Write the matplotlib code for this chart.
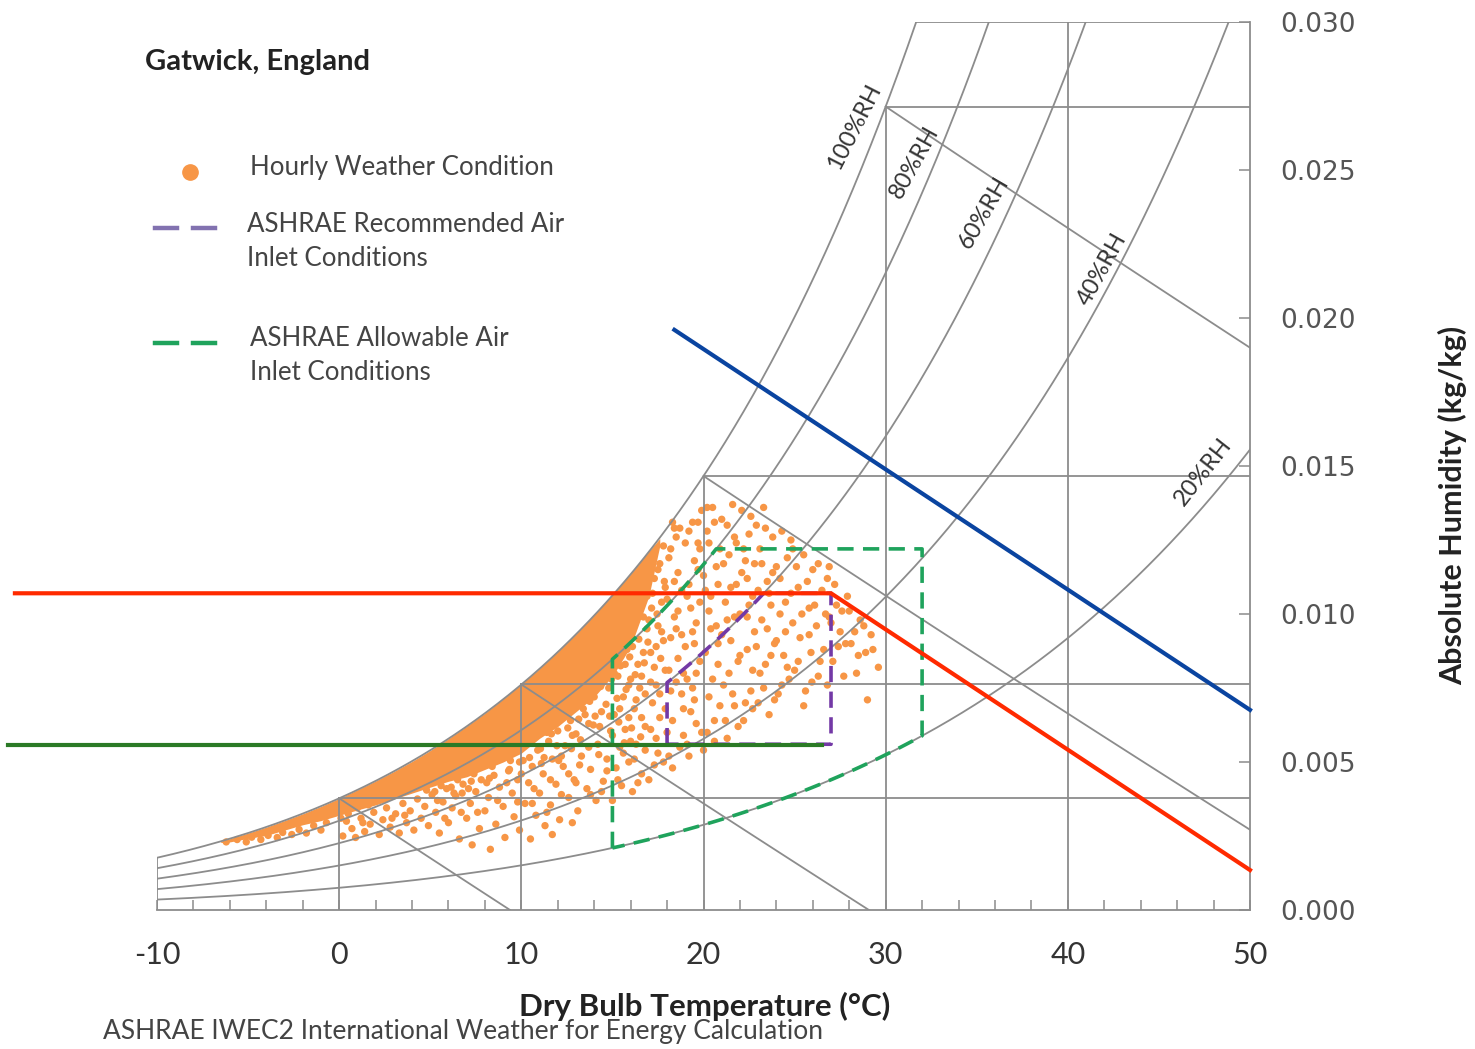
import numpy as np
import matplotlib.pyplot as plt
from matplotlib.lines import Line2D

W, H = 1475, 1049

# --- chart furniture (psychrometric grid) ---
rh_levels = [1.0, 0.8, 0.6, 0.4, 0.2]
rh_labels = ["100%RH", "80%RH", "60%RH", "40%RH", "20%RH"]
rh_label_t = [28.3, 31.6, 35.4, 41.9, 47.4]
rh_label_w = [0.02645, 0.02527, 0.02355, 0.02166, 0.01480]
rh_label_rot = [63, 61, 60, 61, 52]
grid_temps = [-10, 0, 10, 20, 30, 40]
enthalpy_temps = [0, 10, 20, 30]

# --- hourly weather data (g/kg) ---
# solid core of the cloud next to saturation
core_t = [-6.5, -6, -5, -4, -3, -2, -1, 0, 1, 2, 3, 4, 5, 6, 7, 8, 9, 10,
          11, 12, 13, 14, 15, 16, 17, 17.6]
core_hi = [2.32, 2.41, 2.60, 2.80, 3.02, 3.25, 3.50, 3.77, 4.06, 4.36, 4.68,
           5.02, 5.39, 5.79, 6.21, 6.65, 7.13, 7.63, 8.16, 8.73, 9.33, 9.97,
           10.65, 11.36, 12.12, 12.55]
core_lo = [2.28, 2.30, 2.42, 2.52, 2.70, 2.88, 3.02, 3.20, 3.38, 3.55, 3.75,
           3.95, 4.15, 4.35, 4.50, 4.75, 5.00, 5.30, 5.80, 6.20, 6.70, 7.20,
           7.90, 8.90, 10.60, 12.30]
# scattered hours around the core
dots = [
    (-6.2, 2.30), (-5.6, 2.38), (-5.1, 2.30), (-4.8, 2.46), (-4.3, 2.38),
    (-3.9, 2.52), (-3.4, 2.45), (-3.1, 2.62), (-2.6, 2.55), (-2.2, 2.72),
    (-1.8, 2.60), (-1.4, 2.85), (-1.0, 2.70), (-0.7, 2.95),
    (0.2, 2.50), (0.4, 3.00), (0.7, 2.75), (0.9, 2.45), (1.2, 3.10),
    (1.4, 2.65), (1.7, 2.90), (1.9, 3.30), (2.2, 2.55), (2.4, 3.05),
    (2.6, 3.45), (2.8, 2.80), (3.1, 3.25), (3.3, 2.60), (3.5, 3.60),
    (3.7, 2.95), (3.9, 3.35), (4.1, 2.70), (4.3, 3.75), (4.5, 3.10),
    (4.7, 3.50), (4.9, 2.85),
    (0.5, 3.25), (1.0, 3.45), (1.6, 3.55), (2.1, 3.70), (2.7, 3.85),
    (3.2, 3.95), (3.8, 4.10), (4.4, 4.25), (4.8, 4.05), (0.1, 3.10),
    (1.3, 2.95), (2.9, 3.10), (3.6, 3.20),
    (5.1, 3.90), (5.3, 3.30), (5.5, 2.60), (5.7, 3.65), (5.9, 4.10),
    (6.0, 2.95), (6.2, 3.45), (6.4, 3.85), (6.6, 2.40), (6.8, 4.25),
    (7.0, 3.10), (7.2, 3.60), (7.3, 2.20), (7.5, 4.00), (7.7, 2.75),
    (7.8, 4.40), (8.0, 3.35), (8.2, 3.80), (8.3, 2.05), (8.5, 4.55),
    (8.6, 2.90), (8.8, 4.15), (9.0, 3.50), (9.1, 2.45), (9.3, 4.70),
    (9.5, 3.95), (9.6, 3.15), (9.8, 4.40), (9.9, 2.70),
    (5.2, 4.40), (5.6, 4.20), (6.1, 4.55), (6.5, 4.40), (6.9, 4.70),
    (7.4, 4.60), (7.9, 4.95), (8.4, 4.85), (8.9, 5.20), (9.4, 5.05),
    (9.7, 5.40), (5.4, 3.70), (6.3, 3.95), (7.1, 4.10), (8.1, 4.30),
    (9.2, 4.30), (9.8, 3.65), (6.7, 3.30), (8.7, 3.70), (5.8, 3.10),
    (7.6, 3.30),
    (5.25, 4.00), (6.15, 4.15), (7.25, 4.35), (8.25, 4.45), (9.35, 4.75),
    (9.90, 5.00), (8.55, 5.05), (6.75, 3.95),
    (10.1, 5.05), (10.2, 3.60), (10.4, 4.30), (10.5, 2.40), (10.6, 4.85),
    (10.8, 3.20), (10.9, 5.40), (11.0, 3.95), (11.2, 4.60), (11.3, 2.85),
    (11.5, 5.70), (11.6, 3.55), (11.7, 5.10), (11.9, 4.25), (12.0, 6.05),
    (12.1, 3.05), (12.3, 4.85), (12.4, 5.55), (12.6, 3.80), (12.7, 6.40),
    (12.9, 4.40), (13.0, 5.95), (13.1, 3.35), (13.3, 5.20), (13.4, 6.80),
    (13.6, 4.10), (13.7, 6.30), (13.8, 4.75), (14.0, 7.20), (14.1, 3.70),
    (14.2, 5.60), (14.4, 6.70), (14.5, 4.35), (14.7, 5.10), (14.8, 7.50),
    (14.9, 6.05), (10.3, 5.90), (11.1, 6.30), (11.8, 6.60), (12.5, 7.00),
    (13.2, 7.40), (13.9, 7.90), (14.6, 8.20),
    (10.0, 4.60), (10.2, 6.10), (10.5, 5.70), (10.7, 4.10), (10.9, 6.50),
    (11.1, 4.95), (11.4, 6.00), (11.6, 4.40), (11.9, 6.90), (12.2, 5.20),
    (12.4, 7.20), (12.6, 4.60), (12.8, 5.90), (13.0, 7.60), (13.2, 4.90),
    (13.5, 6.60), (13.7, 5.50), (13.9, 7.20), (14.1, 8.10), (14.3, 6.20),
    (14.5, 7.80), (14.7, 4.70), (14.9, 8.50), (10.6, 3.60), (11.4, 3.30),
    (12.2, 3.90), (13.0, 4.30), (13.8, 3.90), (14.4, 4.00), (12.8, 2.95),
    (11.7, 2.55),
    (10.15, 5.55), (10.45, 5.15), (10.75, 5.95), (11.05, 5.45), (11.35, 6.55),
    (11.65, 5.95), (11.95, 5.55), (12.25, 6.65), (12.55, 6.15), (12.85, 7.25),
    (13.15, 6.45), (13.45, 7.85), (13.75, 7.05), (14.05, 6.55), (14.35, 7.55),
    (14.65, 6.95), (14.95, 7.80), (15.25, 7.15), (15.45, 8.25), (15.75, 7.45),
    (15.95, 8.55), (16.25, 7.95), (16.45, 9.15), (16.75, 8.35), (16.95, 9.05),
    (17.15, 10.20), (17.45, 10.00), (17.65, 8.50), (17.85, 11.10),
    (13.25, 5.75), (13.95, 6.25), (14.85, 6.55), (15.35, 6.35), (16.05, 6.15),
    (16.55, 5.85), (11.25, 5.15), (12.05, 5.05), (12.75, 5.45), (14.25, 5.25),
    (15.65, 5.65),
    (15.0, 3.70), (15.1, 6.60), (15.2, 4.80), (15.3, 7.90), (15.4, 5.50),
    (15.5, 4.20), (15.6, 7.20), (15.7, 6.10), (15.8, 8.80), (15.9, 5.00),
    (16.0, 9.20), (16.1, 4.00), (16.2, 6.80), (16.3, 5.60), (16.4, 8.30),
    (16.5, 7.50), (16.6, 4.60), (16.7, 9.90), (16.8, 6.20), (16.9, 10.60),
    (16.2, 5.10), (16.6, 7.90),
    (15.0, 5.90), (15.1, 8.00), (15.3, 4.40), (15.4, 6.80), (15.5, 9.00),
    (15.6, 5.30), (15.7, 8.30), (15.9, 7.60), (15.9, 6.50), (16.0, 5.70),
    (16.1, 8.90), (16.3, 7.10), (16.4, 4.30), (16.5, 10.20), (16.6, 6.50),
    (16.7, 8.70), (16.8, 5.40), (16.9, 9.50), (16.0, 7.80), (16.8, 7.30),
    (15.2, 9.60), (15.6, 10.00), (16.2, 10.60), (16.5, 11.00), (16.9, 11.50),
    (17.0, 4.40), (17.1, 8.70), (17.2, 7.00), (17.3, 11.20), (17.4, 5.80),
    (17.5, 9.60), (17.6, 6.50), (17.7, 10.40), (17.8, 5.00), (17.9, 8.10),
    (17.2, 12.00), (17.6, 11.70), (17.4, 7.60), (17.8, 9.10),
    (17.0, 9.80), (17.1, 6.10), (17.2, 10.70), (17.3, 4.90), (17.4, 8.90),
    (17.5, 11.50), (17.6, 7.30), (17.7, 9.40), (17.8, 12.30), (17.9, 6.80),
    (17.1, 7.70), (17.5, 5.30), (17.9, 10.90), (17.3, 8.20),
    (18.0, 6.00), (18.1, 11.90), (18.2, 7.40), (18.3, 4.80), (18.4, 9.90),
    (18.5, 12.60), (18.6, 8.50), (18.7, 5.50), (18.8, 10.80), (18.9, 6.80),
    (18.2, 9.20), (18.6, 11.40), (18.4, 12.90), (18.9, 8.00),
    (18.0, 10.50), (18.1, 8.10), (18.2, 12.20), (18.3, 6.40), (18.4, 11.10),
    (18.5, 7.70), (18.6, 10.10), (18.7, 12.90), (18.8, 9.30), (18.9, 5.90),
    (18.1, 5.20), (18.5, 9.50), (18.8, 7.30), (18.3, 13.10),
    (19.0, 12.40), (19.1, 7.80), (19.2, 5.20), (19.3, 10.20), (19.4, 13.10),
    (19.5, 9.00), (19.6, 6.30), (19.7, 11.50), (19.8, 8.40), (19.9, 13.50),
    (19.2, 11.00), (19.5, 7.10), (19.8, 12.20), (19.6, 9.70),
    (19.0, 8.90), (19.1, 10.60), (19.2, 12.80), (19.3, 6.70), (19.4, 9.40),
    (19.5, 11.80), (19.6, 8.00), (19.7, 13.10), (19.8, 10.40), (19.9, 6.00),
    (19.1, 5.60), (19.4, 7.50), (19.7, 12.40),
    (20.0, 5.40), (20.1, 10.80), (20.2, 12.80), (20.3, 7.20), (20.4, 9.50),
    (20.5, 13.60), (20.6, 6.40), (20.7, 11.60), (20.8, 8.30), (20.9, 12.20),
    (20.3, 10.10), (20.8, 9.00),
    (20.0, 11.30), (20.1, 8.70), (20.2, 6.00), (20.3, 12.40), (20.4, 10.60),
    (20.5, 7.80), (20.6, 13.10), (20.7, 9.60), (20.8, 11.00), (20.9, 6.90),
    (20.2, 13.60), (20.6, 5.70),
    (21.0, 13.20), (21.1, 7.60), (21.2, 10.40), (21.3, 5.80), (21.4, 12.00),
    (21.5, 9.10), (21.6, 13.70), (21.7, 6.90), (21.8, 11.00), (21.9, 8.40),
    (21.3, 9.80), (21.7, 12.60),
    (21.0, 9.30), (21.1, 11.70), (21.2, 6.40), (21.3, 13.00), (21.4, 8.00),
    (21.5, 10.90), (21.6, 7.30), (21.7, 9.90), (21.8, 12.40), (21.9, 6.20),
    (22.0, 10.00), (22.1, 13.50), (22.2, 6.40), (22.3, 11.80), (22.4, 8.80),
    (22.5, 12.70), (22.6, 7.40), (22.7, 10.60), (22.8, 9.40), (22.9, 13.00),
    (22.4, 11.20), (22.7, 8.10),
    (22.0, 8.60), (22.1, 11.40), (22.2, 12.20), (22.3, 7.00), (22.4, 9.90),
    (22.5, 10.30), (22.6, 13.30), (22.7, 6.80), (22.8, 11.70), (22.9, 8.90),
    (23.0, 7.00), (23.1, 12.20), (23.2, 9.80), (23.3, 13.60), (23.4, 8.30),
    (23.5, 11.10), (23.6, 6.60), (23.7, 10.30), (23.8, 12.60), (23.9, 9.00),
    (23.0, 10.80), (23.1, 8.00), (23.2, 11.70), (23.3, 7.50), (23.4, 12.90),
    (23.5, 9.50), (23.6, 10.70), (23.7, 8.60), (23.8, 11.40), (23.9, 7.10),
    (24.0, 11.60), (24.1, 7.30), (24.2, 10.00), (24.3, 12.80), (24.4, 8.60),
    (24.5, 9.40), (24.6, 11.90), (24.7, 7.80), (24.8, 10.70), (24.9, 12.20),
    (24.0, 9.10), (24.2, 11.20), (24.3, 7.60), (24.5, 10.40), (24.6, 8.20),
    (24.8, 12.50), (24.9, 9.70),
    (25.0, 8.10), (25.2, 10.90), (25.3, 9.20), (25.5, 12.00), (25.6, 7.40),
    (25.8, 10.20), (25.9, 8.70),
    (25.1, 11.60), (25.2, 8.40), (25.4, 10.00), (25.5, 6.90), (25.7, 11.10),
    (25.8, 9.30), (25.95, 7.70),
    (26.0, 11.50), (26.2, 9.60), (26.3, 7.90), (26.5, 10.80), (26.6, 8.80),
    (26.8, 11.20), (26.9, 9.90),
    (26.1, 10.30), (26.3, 11.70), (26.4, 8.40), (26.7, 10.00), (26.8, 7.60),
    (26.9, 11.60),
    (27.1, 8.40), (27.3, 10.30), (27.5, 9.40), (27.7, 7.90), (27.9, 10.60),
    (27.0, 9.70), (27.2, 11.00), (27.4, 8.90), (27.6, 10.10), (27.8, 9.00),
    (28.1, 9.00), (28.4, 8.00), (28.6, 9.80), (28.9, 8.70),
    (28.0, 10.10), (28.3, 9.40), (28.5, 8.60), (28.8, 9.60),
    (29.2, 9.30), (29.0, 7.10), (29.6, 8.20), (29.3, 8.80),
]

# --- ASHRAE envelopes ---
reco_t = [18, 27]          # degC
reco_w = [5.6, 10.7]       # g/kg
reco_rh = 0.60
allow_t = [15, 32]
allow_rh = [0.20, 0.80]
allow_w_max = 12.2

# --- overlay lines ---
red_t = [-17.8, 27.0, 50.0]
red_w = [10.7, 10.7, 1.35]
green_t = [-18.2, 26.5]
green_w = [5.57, 5.57]
blue_t = [18.4, 50.0]
blue_w = [19.6, 6.76]

orange = '#f79646'
grey = '#8c8c8c'


def psat(t):
    return 0.61094 * np.exp(17.625 * t / (t + 243.04))


def hum_ratio(t, rh):
    pv = rh * psat(t)
    return 0.622 * pv / (101.325 - pv)


def t_at(w, rh):
    tt = np.linspace(-20, 60, 4001)
    return np.interp(w, hum_ratio(tt, rh), tt)


plt.rcParams['font.family'] = ['Lato', 'DejaVu Sans']
plt.rcParams['axes.unicode_minus'] = False
fig = plt.figure(figsize=(W / 100, H / 100), dpi=100)
ax = fig.add_axes([157 / W, 1 - 910 / H, (1250 - 157) / W, (910 - 22) / H])
ax.set_xlim(-10, 50)
ax.set_ylim(0, 0.030)


def fx(x, y):
    return x / W, 1 - y / H


# data cloud
ax.fill_between(core_t, np.array(core_lo) / 1000, np.array(core_hi) / 1000,
                color=orange, lw=0, zorder=2)
dt = np.array([d[0] for d in dots])
dw = np.array([d[1] for d in dots]) / 1000
ax.scatter(dt, dw, s=28, color=orange, edgecolors='none', zorder=2)

# grid
tt = np.linspace(-10, 50, 601)
for rh in rh_levels:
    ax.plot(tt, hum_ratio(tt, rh), color=grey, lw=1.3, zorder=3)
for t in grid_temps:
    ax.plot([t, t], [0, min(hum_ratio(t, 1.0), 0.030)], color=grey, lw=1.3, zorder=3)
for t in enthalpy_temps:
    ws = hum_ratio(t, 1.0)
    ax.plot([t, 50], [ws, ws], color=grey, lw=1.3, zorder=3)
    h = 1.006 * t + ws * (2501 + 1.86 * t)
    t_end = min(50, h / 1.006)
    te = np.linspace(t, t_end, 100)
    we = (h - 1.006 * te) / (2501 + 1.86 * te)
    ax.plot(te, we, color=grey, lw=1.3, zorder=3)
ax.plot([t_at(0.030, 1.0), 50], [0.030, 0.030], color=grey, lw=1.3, zorder=3)

for lab, t, w, r in zip(rh_labels, rh_label_t, rh_label_w, rh_label_rot):
    ax.text(t, w, lab, rotation=r, ha='center', va='center', fontsize=17,
            color='#333333', zorder=4)

# recommended envelope
w_lo, w_hi = reco_w[0] / 1000, reco_w[1] / 1000
tc = np.linspace(reco_t[0], t_at(w_hi, reco_rh), 40)
px = [reco_t[0]] + list(tc) + [reco_t[1], reco_t[1], reco_t[0]]
py = [w_lo] + list(hum_ratio(tc, reco_rh)) + [w_hi, w_lo, w_lo]
ax.plot(px, py, color='#7339a6', lw=2.6, dashes=(4.5, 2.6), zorder=5)

# allowable envelope
wmax = allow_w_max / 1000
tu = np.linspace(allow_t[0], t_at(wmax, allow_rh[1]), 40)
tb = np.linspace(allow_t[1], allow_t[0], 60)
px = [allow_t[0]] + list(tu) + [allow_t[1]] + list(tb)
py = ([hum_ratio(allow_t[0], allow_rh[0])] + list(hum_ratio(tu, allow_rh[1]))
      + [wmax] + list(hum_ratio(tb, allow_rh[0])))
ax.plot(px, py, color='#1fa35c', lw=2.6, dashes=(4.5, 2.6), zorder=5)

# overlay lines
ax.plot(red_t, np.array(red_w) / 1000, color='#ff2a00', lw=3.0, zorder=6,
        clip_on=False, solid_joinstyle='miter')
ax.plot(green_t, np.array(green_w) / 1000, color='#2b7a26', lw=3.0, zorder=6,
        clip_on=False)
ax.plot(blue_t, np.array(blue_w) / 1000, color='#0a44a0', lw=3.0, zorder=6,
        clip_on=False)

# axes styling
for s in ['left', 'top']:
    ax.spines[s].set_visible(False)
for s in ['bottom', 'right']:
    ax.spines[s].set_color(grey)
    ax.spines[s].set_linewidth(1.3)
ax.set_xticks(range(-10, 51, 10))
ax.set_xticks(range(-10, 51, 2), minor=True)
ax.tick_params(axis='x', which='both', direction='in', color=grey, length=7,
               width=1.1, pad=22, labelsize=22, labelcolor='#333333')
ax.yaxis.tick_right()
yt = np.arange(0, 0.0301, 0.005)
ax.set_yticks(yt)
ax.set_yticklabels(['%.3f' % v for v in yt], fontfamily='DejaVu Sans')
ax.tick_params(axis='y', direction='in', color=grey, length=8, width=1.1,
               pad=22, labelsize=19, labelcolor='#555555')

# texts
fig.text(*fx(145, 62), "Gatwick, England", fontsize=21, fontweight='bold',
         color='#222222', va='center', ha='left')
fig.text(*fx(705, 1006), "Dry Bulb Temperature (°C)", fontsize=22.5,
         fontweight='bold', color='#222222', ha='center', va='center')
fig.text(*fx(103, 1032), "ASHRAE IWEC2 International Weather for Energy Calculation",
         fontsize=19, color='#444444', ha='left', va='center')
fig.text(*fx(1453, 505), "Absolute Humidity (kg/kg)", fontsize=22,
         fontweight='bold', color='#222222', rotation=90, ha='center', va='center')

# legend
fig.add_artist(Line2D([fx(190, 172)[0]], [fx(190, 172)[1]], marker='o',
                      markersize=11, color=orange, lw=0, transform=fig.transFigure))
for (x0, x1) in [(155, 177), (193, 215)]:
    fig.add_artist(Line2D([x0 / W, x1 / W], [1 - 228 / H] * 2, color='#8272b0',
                          lw=3.2, transform=fig.transFigure))
    fig.add_artist(Line2D([x0 / W, x1 / W], [1 - 343 / H] * 2, color='#1fa35c',
                          lw=3.2, transform=fig.transFigure))
legend_txt = [(250, 167, "Hourly Weather Condition"),
              (247, 224, "ASHRAE Recommended Air"),
              (247, 259, "Inlet Conditions"),
              (250, 338, "ASHRAE Allowable Air"),
              (250, 373, "Inlet Conditions")]
for x, y, s in legend_txt:
    fig.text(*fx(x, y), s, fontsize=18.6, color='#444444', ha='left', va='center')

fig.savefig('out.png', dpi=100)
